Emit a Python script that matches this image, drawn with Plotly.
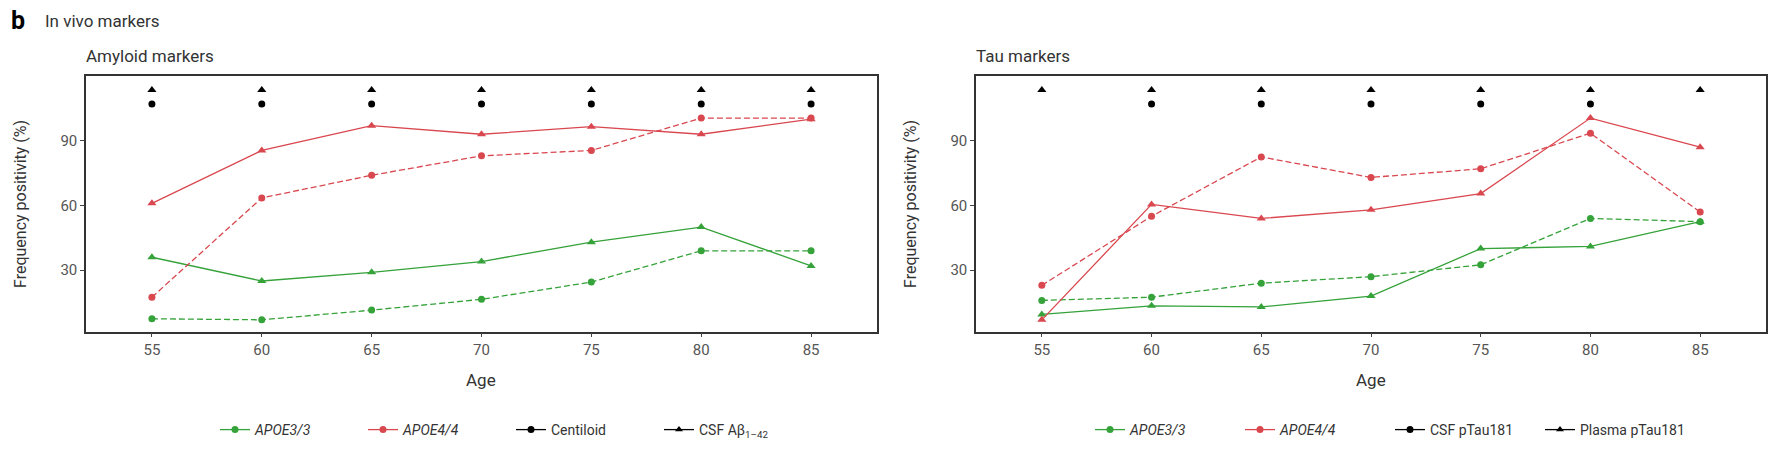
import plotly.graph_objects as go

ages = [55, 60, 65, 70, 75, 80, 85]

# Amyloid panel
amy_e33_csf = [36, 25, 29, 34, 43, 50, 32]        # solid, triangles (CSF Abeta1-42)
amy_e33_cl = [7.5, 7, 11.5, 16.5, 24.5, 39, 39]   # dashed, circles (Centiloid)
amy_e44_csf = [61, 85.5, 97, 93, 96.5, 93, 100]
amy_e44_cl = [17.5, 63.5, 74, 83, 85.5, 100.5, 100.5]
amy_sig_tri = [55, 60, 65, 70, 75, 80, 85]
amy_sig_circ = [55, 60, 65, 70, 75, 80, 85]

# Tau panel
tau_e33_plasma = [9.5, 13.5, 13, 18, 40, 41, 52.5]   # solid, triangles (Plasma pTau181)
tau_e33_csf = [16, 17.5, 24, 27, 32.5, 54, 52.5]     # dashed, circles (CSF pTau181)
tau_e44_plasma = [7, 60.5, 54, 58, 65.5, 100.5, 87]
tau_e44_csf = [23, 55, 82.5, 73, 77, 93.5, 57]
tau_sig_tri = [55, 60, 65, 70, 75, 80, 85]
tau_sig_circ = [60, 65, 70, 75, 80]

GREEN = "#35a23a"
RED = "#d9474f"
FONT = "Roboto"
W, H = 1772, 460

fig = go.Figure()

def add_panel(xa, ya, e33_solid, e33_dash, e44_solid, e44_dash, sig_tri, sig_circ):
    for vals, col, dash, sym in [
        (e33_dash, GREEN, "6px,3px", "circle"),
        (e33_solid, GREEN, "solid", "triangle-up"),
        (e44_dash, RED, "6px,3px", "circle"),
        (e44_solid, RED, "solid", "triangle-up"),
    ]:
        fig.add_trace(go.Scatter(
            x=ages, y=vals, mode="lines+markers", xaxis=xa, yaxis=ya,
            line=dict(color=col, width=1.3, dash=dash),
            marker=dict(color=col, size=7 if sym == "circle" else 8, symbol=sym),
            showlegend=False, hoverinfo="skip"))
    fig.add_trace(go.Scatter(
        x=sig_tri, y=[113.5] * len(sig_tri), mode="markers", xaxis=xa, yaxis=ya,
        marker=dict(color="black", size=8, symbol="triangle-up"),
        showlegend=False, hoverinfo="skip"))
    fig.add_trace(go.Scatter(
        x=sig_circ, y=[107] * len(sig_circ), mode="markers", xaxis=xa, yaxis=ya,
        marker=dict(color="black", size=7, symbol="circle"),
        showlegend=False, hoverinfo="skip"))

add_panel("x", "y", amy_e33_csf, amy_e33_cl, amy_e44_csf, amy_e44_cl, amy_sig_tri, amy_sig_circ)
add_panel("x2", "y2", tau_e33_plasma, tau_e33_csf, tau_e44_plasma, tau_e44_csf, tau_sig_tri, tau_sig_circ)

legend_left = [("<i>APOE3/3</i>", GREEN, "circle"), ("<i>APOE4/4</i>", RED, "circle"),
               ("Centiloid", "black", "circle"), ("CSF Aβ<sub>1–42</sub>", "black", "triangle-up")]
legend_right = [("<i>APOE3/3</i>", GREEN, "circle"), ("<i>APOE4/4</i>", RED, "circle"),
                ("CSF pTau181", "black", "circle"), ("Plasma pTau181", "black", "triangle-up")]
for items, lg, xa, ya in [(legend_left, "legend", "x", "y"), (legend_right, "legend2", "x2", "y2")]:
    for name, col, sym in items:
        fig.add_trace(go.Scatter(
            x=[None], y=[None], mode="lines+markers", name=name, legend=lg, xaxis=xa, yaxis=ya,
            line=dict(color=col, width=1.3), marker=dict(color=col, size=7, symbol=sym)))

ydom = [1 - 331.7 / H, 1 - 76 / H]
axis_common = dict(showgrid=False, zeroline=False, showline=True, mirror=True,
                   linecolor="#333333", linewidth=1.5, ticks="outside", ticklen=4,
                   tickcolor="#444444", tickwidth=1,
                   tickfont=dict(family=FONT, size=15, color="#555555"))
fig.update_layout(
    width=W, height=H, margin=dict(l=0, r=0, t=0, b=0, autoexpand=False),
    paper_bgcolor="white", plot_bgcolor="white",
    font=dict(family=FONT, color="#333333"),
    xaxis=dict(domain=[86 / W, 877 / W], range=[52, 88], tickvals=ages, anchor="y", **axis_common),
    yaxis=dict(domain=ydom, range=[1.5, 120], tickvals=[30, 60, 90], anchor="x", **axis_common),
    xaxis2=dict(domain=[976 / W, 1766 / W], range=[52, 88], tickvals=ages, anchor="y2", **axis_common),
    yaxis2=dict(domain=ydom, range=[1.5, 120], tickvals=[30, 60, 90], anchor="x2", **axis_common),
    legend=dict(orientation="h", x=215 / W, xanchor="left", y=1 - 430 / H, yanchor="middle",
                font=dict(family=FONT, size=14, color="#333333"), itemwidth=30,
                entrywidth=103, entrywidthmode="pixels", bgcolor="rgba(0,0,0,0)"),
    legend2=dict(orientation="h", x=1090 / W, xanchor="left", y=1 - 430 / H, yanchor="middle",
                 font=dict(family=FONT, size=14, color="#333333"), itemwidth=30,
                 entrywidth=105, entrywidthmode="pixels", bgcolor="rgba(0,0,0,0)"),
    showlegend=True,
)

ann = [
    dict(text="<b>b</b>", x=9 / W, y=1 - 21 / H, xanchor="left", yanchor="middle", font=dict(size=25, color="black")),
    dict(text="In vivo markers", x=43 / W, y=1 - 21 / H, xanchor="left", yanchor="middle", font=dict(size=17, color="#333333")),
    dict(text="Amyloid markers", x=84 / W, y=1 - 56 / H, xanchor="left", yanchor="middle", font=dict(size=17, color="#333333")),
    dict(text="Tau markers", x=974 / W, y=1 - 56 / H, xanchor="left", yanchor="middle", font=dict(size=17, color="#333333")),
    dict(text="Age", x=481 / W, y=1 - 380 / H, xanchor="center", yanchor="middle", font=dict(size=17, color="#333333")),
    dict(text="Age", x=1371 / W, y=1 - 380 / H, xanchor="center", yanchor="middle", font=dict(size=17, color="#333333")),
    dict(text="Frequency positivity (%)", x=20 / W, y=1 - 204 / H, textangle=-90, xanchor="center", yanchor="middle", font=dict(size=16, color="#333333")),
    dict(text="Frequency positivity (%)", x=910 / W, y=1 - 204 / H, textangle=-90, xanchor="center", yanchor="middle", font=dict(size=16, color="#333333")),
]
for a in ann:
    a.update(xref="paper", yref="paper", showarrow=False)
    a["font"]["family"] = FONT
fig.update_layout(annotations=ann)

fig.write_html("out.html", config={"displayModeBar": False},
               post_script="document.body.style.margin='0';")
